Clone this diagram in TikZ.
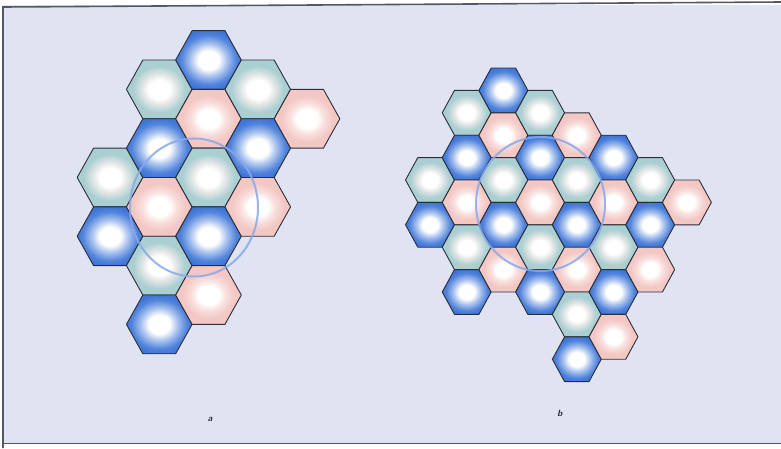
\documentclass[tikz,border=0pt]{standalone}
\usepackage{tikz}
\definecolor{bgcol}{RGB}{224,228,242}
\definecolor{hexblue}{RGB}{62,118,216}
\definecolor{hexteal}{RGB}{170,207,210}
\definecolor{hexpink}{RGB}{243,199,195}
\definecolor{hexline}{RGB}{45,45,55}
\definecolor{circblue}{RGB}{135,168,236}
\definecolor{framecol}{RGB}{85,88,100}
\pgfdeclareradialshading{hblue}{\pgfpoint{0bp}{0bp}}{color(0bp)=(white); color(8bp)=(white); color(14bp)=(hexblue!45); color(21bp)=(hexblue!90); color(25bp)=(hexblue); color(50bp)=(hexblue)}
\pgfdeclareradialshading{hteal}{\pgfpoint{0bp}{0bp}}{color(0bp)=(white); color(8bp)=(white); color(13bp)=(hexpink!40!hexteal!50); color(20bp)=(hexteal); color(25bp)=(hexteal); color(50bp)=(hexteal)}
\pgfdeclareradialshading{hpink}{\pgfpoint{0bp}{0bp}}{color(0bp)=(white); color(8bp)=(white); color(13bp)=(hexpink!55); color(20bp)=(hexpink); color(25bp)=(hexpink); color(50bp)=(hexpink)}
\newcommand{\hexcell}[5]{%
  \shade[shading=#5, draw=hexline, line width=0.9pt, line join=round]
    ({#1-#3},{#2}) -- ({#1-#3/2},{#2-#4}) -- ({#1+#3/2},{#2-#4}) --
    ({#1+#3},{#2}) -- ({#1+#3/2},{#2+#4}) -- ({#1-#3/2},{#2+#4}) -- cycle;}
\tikzset{
  ringline/.style={draw=circblue, line width=2pt, opacity=0.85},
  panellabel/.style={font=\sffamily\bfseries\itshape\fontsize{9}{10}\selectfont, text=hexline!90!black, inner sep=0pt}
}
\begin{document}
\begin{tikzpicture}[x=1pt,y=-1pt]
\useasboundingbox (0,0) rectangle (781,448);
\fill[white] (0,0) rectangle (781,448);
\fill[bgcol] (3,5) rectangle (781,443);
\draw[framecol, line width=1.6pt] (3,448) -- (3,7) -- (781,2);
\draw[framecol, line width=1.6pt] (3,443.5) -- (781,443.5);
% panel a
\foreach \c/\r/\s in {0/4/hteal,0/6/hblue,
  1/1/hteal,1/3/hblue,1/5/hpink,1/7/hteal,1/9/hblue,
  2/0/hblue,2/2/hpink,2/4/hteal,2/6/hblue,2/8/hpink,
  3/1/hteal,3/3/hblue,3/5/hpink,
  4/2/hpink}{
  \pgfmathsetmacro\cx{110+49.25*\c}
  \pgfmathsetmacro\cy{60+29.375*\r}
  \hexcell{\cx}{\cy}{32.83}{29.375}{\s}
}
\draw[ringline] (194,207.5) ellipse [x radius=64, y radius=69];
% panel b
\foreach \c/\r/\s in {0/0/hteal,0/2/hblue,
  1/-3/hteal,1/-1/hblue,1/1/hpink,1/3/hteal,1/5/hblue,
  2/-4/hblue,2/-2/hpink,2/0/hteal,2/2/hblue,2/4/hpink,
  3/-3/hteal,3/-1/hblue,3/1/hpink,3/3/hteal,3/5/hblue,
  4/-2/hpink,4/0/hteal,4/2/hblue,4/4/hpink,4/6/hteal,4/8/hblue,
  5/-1/hblue,5/1/hpink,5/3/hteal,5/5/hblue,5/7/hpink,
  6/0/hteal,6/2/hblue,6/4/hpink,
  7/1/hpink}{
  \pgfmathsetmacro\cx{430+36.7*\c}
  \pgfmathsetmacro\cy{180+22.4*\r}
  \hexcell{\cx}{\cy}{24.47}{22.4}{\s}
}
\draw[ringline] (540.5,204) ellipse [x radius=64.5, y radius=67];
\node[panellabel] (la) at (210,419) {a};
\node[panellabel] (lb) at (560,413) {b};
\end{tikzpicture}
\end{document}
